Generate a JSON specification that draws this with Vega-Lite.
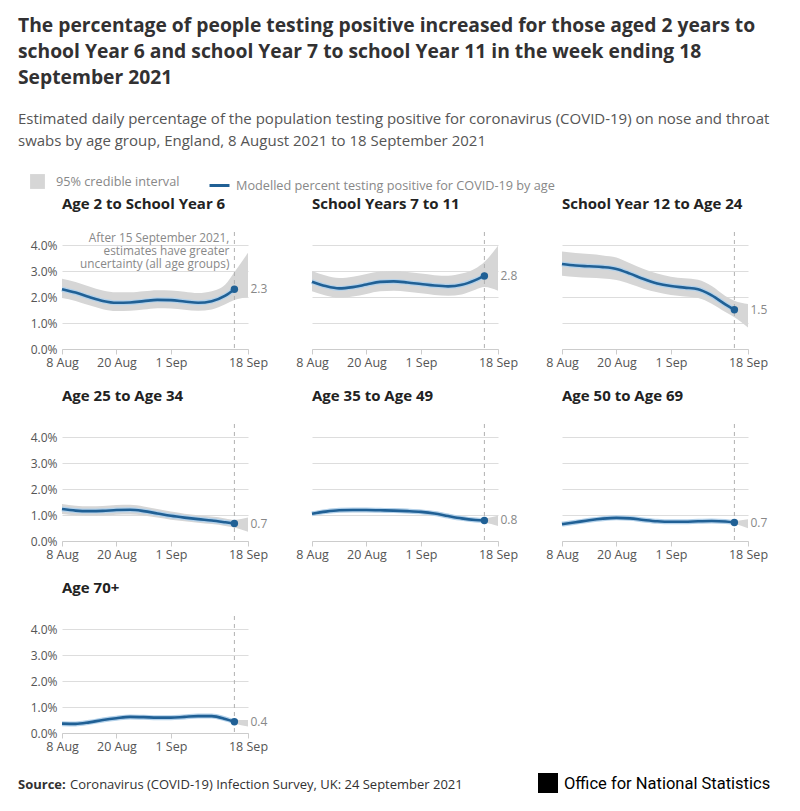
{
  "$schema": "https://vega.github.io/schema/vega-lite/v6.json",
  "background": "white",
  "padding": {"left": 18, "top": 16, "right": 10, "bottom": 5},
  "title": {
    "text": ["The percentage of people testing positive increased for those aged 2 years to", "school Year 6 and school Year 7 to school Year 11 in the week ending 18", "September 2021"],
    "subtitle": ["Estimated daily percentage of the population testing positive for coronavirus (COVID-19) on nose and throat", "swabs by age group, England, 8 August 2021 to 18 September 2021"],
    "anchor": "start",
    "font": "Open Sans",
    "fontSize": 19.3,
    "fontWeight": "bold",
    "color": "#323132",
    "lineHeight": 26,
    "subtitleFont": "Open Sans",
    "subtitleFontSize": 15,
    "subtitleColor": "#555555",
    "subtitleLineHeight": 22,
    "subtitlePadding": 24,
    "offset": 25
  },
  "vconcat": [
    {
      "data": {
        "values": [
          {"g": "Age 2 to School Year 6", "d": "2021-08-08", "est": 2.30, "lo": 1.96, "hi": 2.70},
          {"g": "Age 2 to School Year 6", "d": "2021-08-11", "est": 2.17, "lo": 1.85, "hi": 2.58},
          {"g": "Age 2 to School Year 6", "d": "2021-08-14", "est": 2.00, "lo": 1.68, "hi": 2.40},
          {"g": "Age 2 to School Year 6", "d": "2021-08-17", "est": 1.85, "lo": 1.53, "hi": 2.25},
          {"g": "Age 2 to School Year 6", "d": "2021-08-20", "est": 1.78, "lo": 1.46, "hi": 2.18},
          {"g": "Age 2 to School Year 6", "d": "2021-08-23", "est": 1.79, "lo": 1.47, "hi": 2.18},
          {"g": "Age 2 to School Year 6", "d": "2021-08-26", "est": 1.84, "lo": 1.52, "hi": 2.22},
          {"g": "Age 2 to School Year 6", "d": "2021-08-29", "est": 1.89, "lo": 1.57, "hi": 2.26},
          {"g": "Age 2 to School Year 6", "d": "2021-09-01", "est": 1.88, "lo": 1.56, "hi": 2.25},
          {"g": "Age 2 to School Year 6", "d": "2021-09-04", "est": 1.83, "lo": 1.51, "hi": 2.20},
          {"g": "Age 2 to School Year 6", "d": "2021-09-07", "est": 1.78, "lo": 1.47, "hi": 2.15},
          {"g": "Age 2 to School Year 6", "d": "2021-09-10", "est": 1.84, "lo": 1.52, "hi": 2.22},
          {"g": "Age 2 to School Year 6", "d": "2021-09-13", "est": 2.05, "lo": 1.72, "hi": 2.48},
          {"g": "Age 2 to School Year 6", "d": "2021-09-15", "est": 2.30, "lo": 1.88, "hi": 2.95},
          {"g": "Age 2 to School Year 6", "d": "2021-09-18", "est": null, "lo": 2.00, "hi": 3.70},
          {"g": "School Years 7 to 11", "d": "2021-08-08", "est": 2.59, "lo": 2.22, "hi": 3.00},
          {"g": "School Years 7 to 11", "d": "2021-08-11", "est": 2.42, "lo": 2.06, "hi": 2.83},
          {"g": "School Years 7 to 11", "d": "2021-08-14", "est": 2.33, "lo": 1.97, "hi": 2.73},
          {"g": "School Years 7 to 11", "d": "2021-08-17", "est": 2.38, "lo": 2.02, "hi": 2.78},
          {"g": "School Years 7 to 11", "d": "2021-08-20", "est": 2.48, "lo": 2.12, "hi": 2.88},
          {"g": "School Years 7 to 11", "d": "2021-08-23", "est": 2.58, "lo": 2.22, "hi": 2.98},
          {"g": "School Years 7 to 11", "d": "2021-08-26", "est": 2.60, "lo": 2.24, "hi": 3.00},
          {"g": "School Years 7 to 11", "d": "2021-08-29", "est": 2.56, "lo": 2.20, "hi": 2.96},
          {"g": "School Years 7 to 11", "d": "2021-09-01", "est": 2.50, "lo": 2.14, "hi": 2.90},
          {"g": "School Years 7 to 11", "d": "2021-09-04", "est": 2.44, "lo": 2.08, "hi": 2.84},
          {"g": "School Years 7 to 11", "d": "2021-09-07", "est": 2.41, "lo": 2.05, "hi": 2.82},
          {"g": "School Years 7 to 11", "d": "2021-09-10", "est": 2.47, "lo": 2.10, "hi": 2.90},
          {"g": "School Years 7 to 11", "d": "2021-09-13", "est": 2.65, "lo": 2.28, "hi": 3.10},
          {"g": "School Years 7 to 11", "d": "2021-09-15", "est": 2.81, "lo": 2.38, "hi": 3.35},
          {"g": "School Years 7 to 11", "d": "2021-09-18", "est": null, "lo": 2.24, "hi": 3.97},
          {"g": "School Year 12 to Age 24", "d": "2021-08-08", "est": 3.27, "lo": 2.82, "hi": 3.75},
          {"g": "School Year 12 to Age 24", "d": "2021-08-11", "est": 3.21, "lo": 2.77, "hi": 3.69},
          {"g": "School Year 12 to Age 24", "d": "2021-08-14", "est": 3.18, "lo": 2.74, "hi": 3.65},
          {"g": "School Year 12 to Age 24", "d": "2021-08-17", "est": 3.15, "lo": 2.71, "hi": 3.60},
          {"g": "School Year 12 to Age 24", "d": "2021-08-20", "est": 3.08, "lo": 2.65, "hi": 3.52},
          {"g": "School Year 12 to Age 24", "d": "2021-08-23", "est": 2.90, "lo": 2.50, "hi": 3.30},
          {"g": "School Year 12 to Age 24", "d": "2021-08-26", "est": 2.69, "lo": 2.32, "hi": 3.08},
          {"g": "School Year 12 to Age 24", "d": "2021-08-29", "est": 2.52, "lo": 2.18, "hi": 2.90},
          {"g": "School Year 12 to Age 24", "d": "2021-09-01", "est": 2.42, "lo": 2.08, "hi": 2.78},
          {"g": "School Year 12 to Age 24", "d": "2021-09-04", "est": 2.36, "lo": 2.02, "hi": 2.72},
          {"g": "School Year 12 to Age 24", "d": "2021-09-07", "est": 2.30, "lo": 1.96, "hi": 2.66},
          {"g": "School Year 12 to Age 24", "d": "2021-09-10", "est": 2.06, "lo": 1.74, "hi": 2.42},
          {"g": "School Year 12 to Age 24", "d": "2021-09-13", "est": 1.72, "lo": 1.42, "hi": 2.04},
          {"g": "School Year 12 to Age 24", "d": "2021-09-15", "est": 1.51, "lo": 1.22, "hi": 1.86},
          {"g": "School Year 12 to Age 24", "d": "2021-09-18", "est": null, "lo": 0.83, "hi": 1.73},
          {"g": "Age 25 to Age 34", "d": "2021-08-08", "est": 1.23, "lo": 1.04, "hi": 1.42},
          {"g": "Age 25 to Age 34", "d": "2021-08-11", "est": 1.17, "lo": 0.99, "hi": 1.36},
          {"g": "Age 25 to Age 34", "d": "2021-08-14", "est": 1.15, "lo": 0.97, "hi": 1.34},
          {"g": "Age 25 to Age 34", "d": "2021-08-17", "est": 1.16, "lo": 0.98, "hi": 1.35},
          {"g": "Age 25 to Age 34", "d": "2021-08-20", "est": 1.19, "lo": 1.01, "hi": 1.38},
          {"g": "Age 25 to Age 34", "d": "2021-08-23", "est": 1.20, "lo": 1.02, "hi": 1.39},
          {"g": "Age 25 to Age 34", "d": "2021-08-26", "est": 1.15, "lo": 0.98, "hi": 1.33},
          {"g": "Age 25 to Age 34", "d": "2021-08-29", "est": 1.06, "lo": 0.90, "hi": 1.23},
          {"g": "Age 25 to Age 34", "d": "2021-09-01", "est": 0.97, "lo": 0.82, "hi": 1.13},
          {"g": "Age 25 to Age 34", "d": "2021-09-04", "est": 0.90, "lo": 0.76, "hi": 1.05},
          {"g": "Age 25 to Age 34", "d": "2021-09-07", "est": 0.84, "lo": 0.70, "hi": 0.99},
          {"g": "Age 25 to Age 34", "d": "2021-09-10", "est": 0.79, "lo": 0.65, "hi": 0.94},
          {"g": "Age 25 to Age 34", "d": "2021-09-13", "est": 0.72, "lo": 0.58, "hi": 0.87},
          {"g": "Age 25 to Age 34", "d": "2021-09-15", "est": 0.67, "lo": 0.52, "hi": 0.82},
          {"g": "Age 25 to Age 34", "d": "2021-09-18", "est": null, "lo": 0.36, "hi": 0.90},
          {"g": "Age 35 to Age 49", "d": "2021-08-08", "est": 1.05, "lo": 0.98, "hi": 1.12},
          {"g": "Age 35 to Age 49", "d": "2021-08-11", "est": 1.13, "lo": 1.06, "hi": 1.21},
          {"g": "Age 35 to Age 49", "d": "2021-08-14", "est": 1.18, "lo": 1.10, "hi": 1.26},
          {"g": "Age 35 to Age 49", "d": "2021-08-17", "est": 1.19, "lo": 1.11, "hi": 1.27},
          {"g": "Age 35 to Age 49", "d": "2021-08-20", "est": 1.19, "lo": 1.11, "hi": 1.27},
          {"g": "Age 35 to Age 49", "d": "2021-08-23", "est": 1.18, "lo": 1.10, "hi": 1.26},
          {"g": "Age 35 to Age 49", "d": "2021-08-26", "est": 1.17, "lo": 1.09, "hi": 1.25},
          {"g": "Age 35 to Age 49", "d": "2021-08-29", "est": 1.15, "lo": 1.07, "hi": 1.23},
          {"g": "Age 35 to Age 49", "d": "2021-09-01", "est": 1.12, "lo": 1.04, "hi": 1.20},
          {"g": "Age 35 to Age 49", "d": "2021-09-04", "est": 1.06, "lo": 0.98, "hi": 1.14},
          {"g": "Age 35 to Age 49", "d": "2021-09-07", "est": 0.96, "lo": 0.89, "hi": 1.04},
          {"g": "Age 35 to Age 49", "d": "2021-09-10", "est": 0.87, "lo": 0.80, "hi": 0.95},
          {"g": "Age 35 to Age 49", "d": "2021-09-13", "est": 0.81, "lo": 0.74, "hi": 0.89},
          {"g": "Age 35 to Age 49", "d": "2021-09-15", "est": 0.79, "lo": 0.71, "hi": 0.88},
          {"g": "Age 35 to Age 49", "d": "2021-09-18", "est": null, "lo": 0.58, "hi": 0.97},
          {"g": "Age 50 to Age 69", "d": "2021-08-08", "est": 0.65, "lo": 0.60, "hi": 0.70},
          {"g": "Age 50 to Age 69", "d": "2021-08-11", "est": 0.72, "lo": 0.67, "hi": 0.77},
          {"g": "Age 50 to Age 69", "d": "2021-08-14", "est": 0.80, "lo": 0.75, "hi": 0.85},
          {"g": "Age 50 to Age 69", "d": "2021-08-17", "est": 0.86, "lo": 0.81, "hi": 0.91},
          {"g": "Age 50 to Age 69", "d": "2021-08-20", "est": 0.89, "lo": 0.84, "hi": 0.94},
          {"g": "Age 50 to Age 69", "d": "2021-08-23", "est": 0.87, "lo": 0.82, "hi": 0.92},
          {"g": "Age 50 to Age 69", "d": "2021-08-26", "est": 0.81, "lo": 0.76, "hi": 0.86},
          {"g": "Age 50 to Age 69", "d": "2021-08-29", "est": 0.76, "lo": 0.71, "hi": 0.81},
          {"g": "Age 50 to Age 69", "d": "2021-09-01", "est": 0.74, "lo": 0.69, "hi": 0.79},
          {"g": "Age 50 to Age 69", "d": "2021-09-04", "est": 0.74, "lo": 0.69, "hi": 0.79},
          {"g": "Age 50 to Age 69", "d": "2021-09-07", "est": 0.76, "lo": 0.71, "hi": 0.81},
          {"g": "Age 50 to Age 69", "d": "2021-09-10", "est": 0.77, "lo": 0.72, "hi": 0.82},
          {"g": "Age 50 to Age 69", "d": "2021-09-13", "est": 0.75, "lo": 0.69, "hi": 0.81},
          {"g": "Age 50 to Age 69", "d": "2021-09-15", "est": 0.71, "lo": 0.65, "hi": 0.78},
          {"g": "Age 50 to Age 69", "d": "2021-09-18", "est": null, "lo": 0.49, "hi": 0.84},
          {"g": "Age 70+", "d": "2021-08-08", "est": 0.36, "lo": 0.32, "hi": 0.40},
          {"g": "Age 70+", "d": "2021-08-11", "est": 0.35, "lo": 0.31, "hi": 0.39},
          {"g": "Age 70+", "d": "2021-08-14", "est": 0.41, "lo": 0.37, "hi": 0.45},
          {"g": "Age 70+", "d": "2021-08-17", "est": 0.50, "lo": 0.46, "hi": 0.55},
          {"g": "Age 70+", "d": "2021-08-20", "est": 0.57, "lo": 0.52, "hi": 0.62},
          {"g": "Age 70+", "d": "2021-08-23", "est": 0.62, "lo": 0.57, "hi": 0.67},
          {"g": "Age 70+", "d": "2021-08-26", "est": 0.61, "lo": 0.56, "hi": 0.66},
          {"g": "Age 70+", "d": "2021-08-29", "est": 0.59, "lo": 0.54, "hi": 0.64},
          {"g": "Age 70+", "d": "2021-09-01", "est": 0.59, "lo": 0.54, "hi": 0.64},
          {"g": "Age 70+", "d": "2021-09-04", "est": 0.62, "lo": 0.57, "hi": 0.67},
          {"g": "Age 70+", "d": "2021-09-07", "est": 0.65, "lo": 0.60, "hi": 0.70},
          {"g": "Age 70+", "d": "2021-09-10", "est": 0.65, "lo": 0.60, "hi": 0.70},
          {"g": "Age 70+", "d": "2021-09-13", "est": 0.54, "lo": 0.49, "hi": 0.60},
          {"g": "Age 70+", "d": "2021-09-15", "est": 0.43, "lo": 0.37, "hi": 0.50},
          {"g": "Age 70+", "d": "2021-09-18", "est": null, "lo": 0.25, "hi": 0.50}
        ]
      },
      "facet": {
        "field": "g",
        "type": "nominal",
        "sort": ["Age 2 to School Year 6", "School Years 7 to 11", "School Year 12 to Age 24", "Age 25 to Age 34", "Age 35 to Age 49", "Age 50 to Age 69", "Age 70+"],
        "header": {
          "title": null,
          "labelAnchor": "start",
          "labelFont": "Open Sans",
          "labelFontSize": 15,
          "labelFontWeight": "bold",
          "labelColor": "#222222",
          "labelPadding": 20
        }
      },
      "columns": 3,
      "bounds": "flush",
      "spacing": {"row": 75, "column": 64},
      "resolve": {"axis": {"x": "independent"}},
      "spec": {
        "width": 186,
        "height": 117,
        "encoding": {
          "x": {
            "field": "d",
            "type": "temporal",
            "timeUnit": "utcyearmonthdate",
            "title": null,
            "scale": {
              "domain": [{"year": 2021, "month": 8, "date": 8, "utc": true}, {"year": 2021, "month": 9, "date": 18, "utc": true}],
              "nice": false
            },
            "axis": {
              "values": [
                {"year": 2021, "month": 8, "date": 8, "utc": true},
                {"year": 2021, "month": 8, "date": 20, "utc": true},
                {"year": 2021, "month": 9, "date": 1, "utc": true},
                {"year": 2021, "month": 9, "date": 18, "utc": true}
              ],
              "format": "%-d %b",
              "grid": false,
              "labelOverlap": false,
              "labelFlush": false,
              "labelBound": false,
              "labelPadding": 2,
              "labelFontSize": 12.5,
              "tickSize": 5,
              "tickColor": "#cccccc",
              "domainColor": "#cccccc"
            }
          }
        },
        "layer": [
          {
            "mark": {"type": "area", "interpolate": "monotone"},
            "encoding": {
              "y": {
                "field": "lo",
                "type": "quantitative",
                "title": null,
                "scale": {"domain": [0, 4.5], "nice": false},
                "axis": {"values": [0, 1, 2, 3, 4], "labelExpr": "format(datum.value, '.1f') + '%'"}
              },
              "y2": {"field": "hi"},
              "fill": {
                "datum": "95% credible interval",
                "scale": {"range": ["#d6d6d6"]},
                "legend": {
                  "orient": "none",
                  "legendX": -32,
                  "legendY": -58,
                  "direction": "horizontal",
                  "title": null,
                  "symbolType": "square",
                  "symbolSize": 220,
                  "symbolStrokeWidth": 0,
                  "labelFontSize": 12.7,
                  "labelColor": "#888888",
                  "labelOffset": 11,
                  "labelLimit": 0
                }
              }
            }
          },
          {
            "mark": {"type": "line", "interpolate": "monotone", "strokeWidth": 5, "color": "#b3d1ea"},
            "encoding": {
              "y": {"field": "est", "type": "quantitative", "title": null, "axis": {"values": [0, 1, 2, 3, 4], "labelExpr": "format(datum.value, '.1f') + '%'"}}
            }
          },
          {
            "mark": {"type": "line", "interpolate": "monotone", "strokeWidth": 2.6},
            "encoding": {
              "y": {"field": "est", "type": "quantitative", "title": null, "axis": {"values": [0, 1, 2, 3, 4], "labelExpr": "format(datum.value, '.1f') + '%'"}},
              "stroke": {
                "datum": "Modelled percent testing positive for COVID-19 by age",
                "scale": {"range": ["#206095"]},
                "legend": {
                  "orient": "none",
                  "legendX": 146,
                  "legendY": -58,
                  "direction": "horizontal",
                  "title": null,
                  "symbolType": "stroke",
                  "symbolSize": 400,
                  "symbolStrokeWidth": 3,
                  "labelFontSize": 12.7,
                  "labelColor": "#888888",
                  "labelOffset": 5,
                  "labelLimit": 0
                }
              }
            }
          },
          {
            "transform": [{"filter": {"field": "d", "timeUnit": "utcyearmonthdate", "equal": {"year": 2021, "month": 9, "date": 15, "utc": true}}}],
            "mark": {"type": "rule", "color": "#b0b0b0", "strokeDash": [4, 4], "strokeWidth": 1},
            "encoding": {}
          },
          {
            "transform": [{"filter": {"field": "d", "timeUnit": "utcyearmonthdate", "equal": {"year": 2021, "month": 9, "date": 15, "utc": true}}}],
            "mark": {"type": "point", "filled": true, "size": 55, "color": "#206095", "opacity": 1},
            "encoding": {
              "y": {"field": "est", "type": "quantitative", "title": null, "axis": {"values": [0, 1, 2, 3, 4], "labelExpr": "format(datum.value, '.1f') + '%'"}}
            }
          },
          {
            "transform": [{"filter": {"field": "d", "timeUnit": "utcyearmonthdate", "equal": {"year": 2021, "month": 9, "date": 15, "utc": true}}}],
            "mark": {"type": "text", "align": "left", "baseline": "middle", "dx": 16, "fontSize": 12, "color": "#888888"},
            "encoding": {
              "y": {"field": "est", "type": "quantitative", "title": null, "axis": {"values": [0, 1, 2, 3, 4], "labelExpr": "format(datum.value, '.1f') + '%'"}},
              "text": {"field": "est", "type": "quantitative", "format": ".1f"}
            }
          },
          {
            "transform": [{"filter": {"and": [
              {"field": "d", "timeUnit": "utcyearmonthdate", "equal": {"year": 2021, "month": 9, "date": 15, "utc": true}},
              {"field": "g", "equal": "Age 2 to School Year 6"}
            ]}}],
            "mark": {"type": "text", "align": "right", "baseline": "top", "dx": -5, "fontSize": 11.8, "lineHeight": 13.3, "color": "#888888"},
            "encoding": {
              "y": {"datum": 4.47, "axis": {"values": [0, 1, 2, 3, 4], "labelExpr": "format(datum.value, '.1f') + '%'"}},
              "text": {"value": ["After 15 September 2021,", "estimates have greater", "uncertainty (all age groups)"]}
            }
          }
        ]
      }
    },
    {
      "hconcat": [
        {
          "width": 8,
          "height": 20,
          "data": {"values": []},
          "mark": "point",
          "title": {"text": "Source:", "anchor": "start", "dx": -44, "dy": 23, "font": "Open Sans", "fontSize": 13, "fontWeight": "bold", "color": "#323132"}
        },
        {
          "width": 468,
          "height": 20,
          "data": {"values": []},
          "mark": "point",
          "title": {"text": "Coronavirus (COVID-19) Infection Survey, UK: 24 September 2021", "anchor": "start", "dy": 23, "font": "Open Sans", "fontSize": 13, "fontWeight": "normal", "color": "#323132"}
        },
        {
          "width": 20,
          "height": 20,
          "data": {"values": [{"logo": "ONS"}]},
          "mark": {"type": "square", "size": 400, "color": "#000000", "opacity": 1}
        },
        {
          "width": 210,
          "height": 20,
          "data": {"values": []},
          "mark": "point",
          "title": {"text": "Office for National Statistics", "anchor": "start", "dx": 6, "dy": 23, "font": "Roboto", "fontSize": 16.5, "fontWeight": "normal", "color": "#000000"}
        }
      ],
      "bounds": "flush",
      "spacing": 0
    }
  ],
  "spacing": 20,
  "config": {
    "font": "Open Sans",
    "view": {"stroke": null},
    "axis": {"labelFont": "Open Sans", "labelFontSize": 12, "labelColor": "#555555"},
    "axisY": {"tickCount": 5, "domain": false, "ticks": false, "labelPadding": 5, "gridColor": "#dddddd"},
    "legend": {"labelFont": "Open Sans"}
  }
}
